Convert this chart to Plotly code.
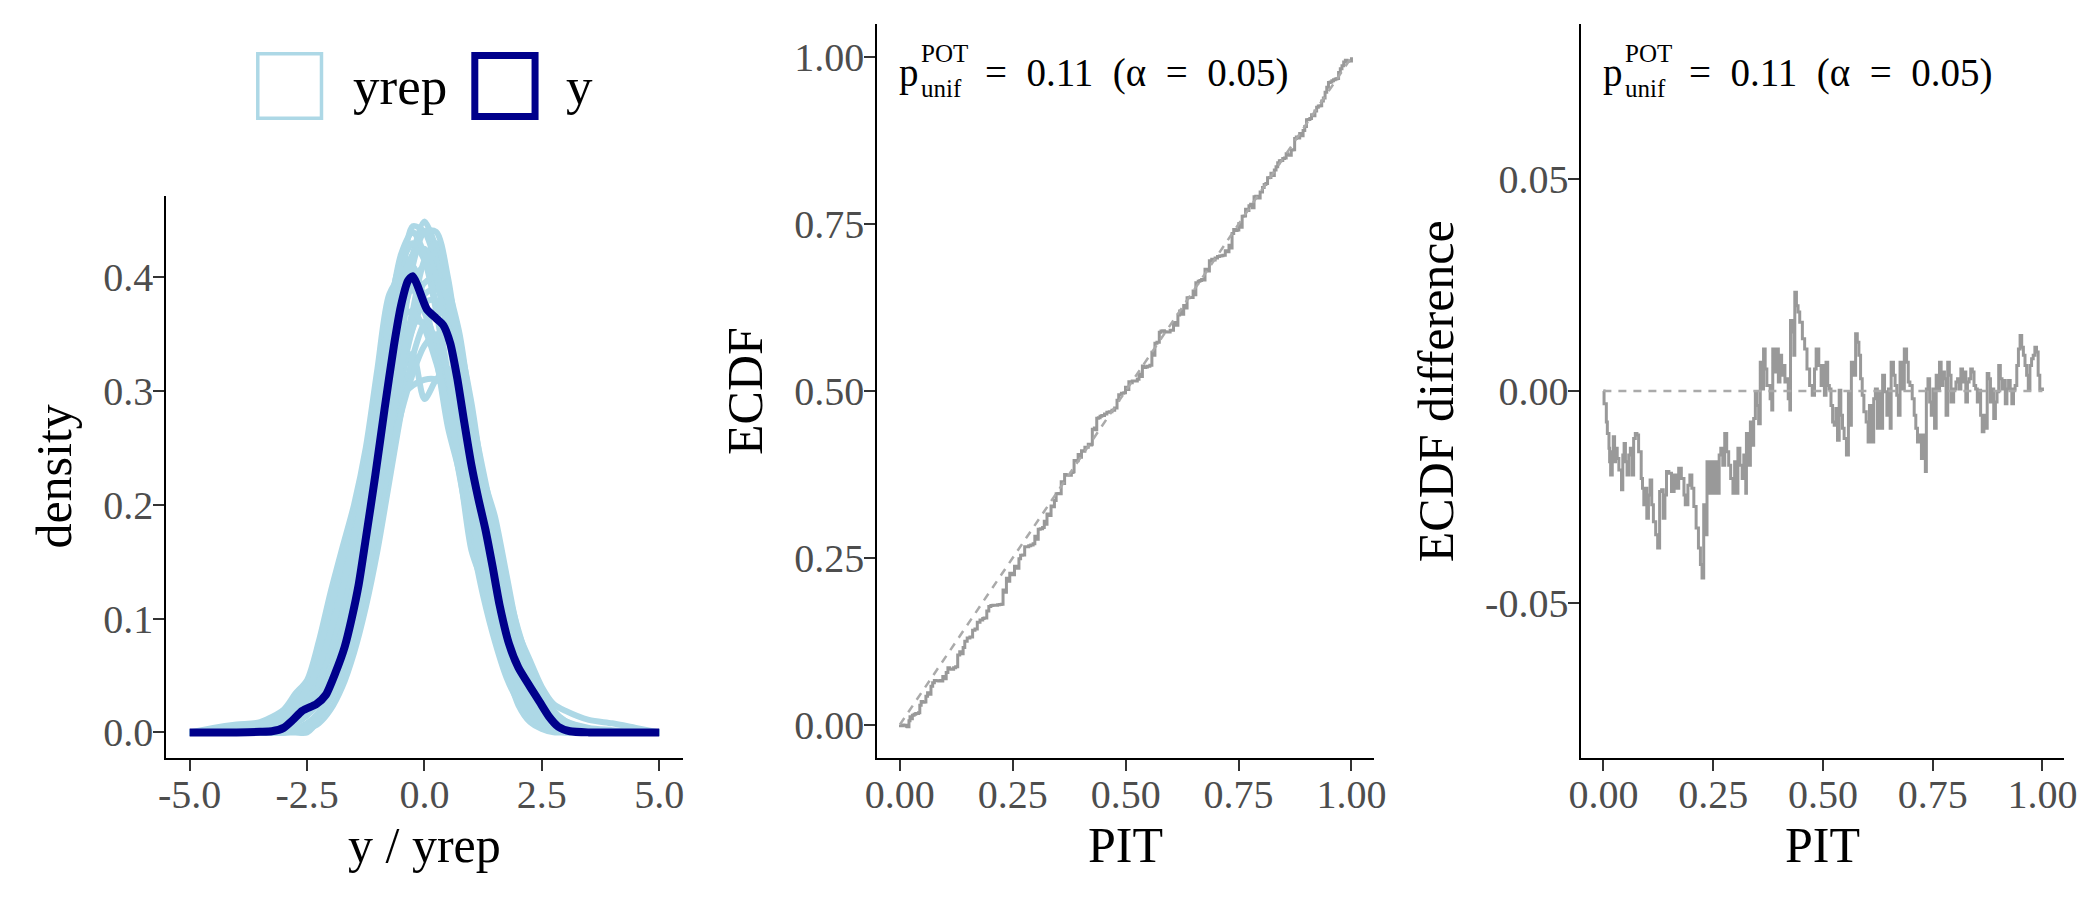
import plotly.graph_objects as go

# ---- data -------------------------------------------------------------
grid_x = [-5, -4.5, -4, -3.5, -3, -2.75, -2.5, -2.25, -2, -1.75, -1.5, -1.25, -1,
          -0.75, -0.5, -0.25, 0, 0.25, 0.5, 0.75, 1, 1.25, 1.5, 1.75, 2, 2.25,
          2.5, 2.75, 3, 3.5, 4, 4.5, 5]

yrep_01 = [0, 0.004, 0.007, 0.009, 0.02, 0.034, 0.046, 0.08, 0.123, 0.162, 0.2, 0.25, 0.32,
           0.385, 0.4, 0.39, 0.37, 0.34, 0.29, 0.235, 0.17, 0.13, 0.09, 0.055, 0.03, 0.015,
           0.007, 0.003, 0.001, 0, 0, 0, 0]
yrep_02 = [0, 0, 0, 0, 0.001, 0.003, 0.008, 0.018, 0.04, 0.07, 0.11, 0.165, 0.23,
           0.31, 0.39, 0.445, 0.44, 0.41, 0.36, 0.29, 0.22, 0.16, 0.11, 0.07, 0.04, 0.02,
           0.008, 0.003, 0.001, 0, 0, 0, 0]
yrep_03 = [0, 0, 0, 0, 0, 0.001, 0.004, 0.015, 0.045, 0.07, 0.105, 0.15, 0.205,
           0.28, 0.36, 0.42, 0.449, 0.425, 0.37, 0.3, 0.225, 0.16, 0.105, 0.065, 0.035, 0.017,
           0.007, 0.002, 0, 0, 0, 0, 0]
yrep_04 = [0, 0, 0, 0.001, 0.005, 0.01, 0.02, 0.035, 0.055, 0.085, 0.125, 0.175, 0.23,
           0.28, 0.315, 0.333, 0.293, 0.31, 0.32, 0.29, 0.24, 0.185, 0.135, 0.09, 0.055, 0.03,
           0.015, 0.007, 0.003, 0, 0, 0, 0]
yrep_05 = [0, 0, 0, 0, 0, 0.001, 0.003, 0.008, 0.02, 0.04, 0.07, 0.11, 0.16,
           0.22, 0.28, 0.33, 0.36, 0.37, 0.365, 0.34, 0.29, 0.225, 0.19, 0.138, 0.088, 0.063,
           0.04, 0.025, 0.019, 0.011, 0.008, 0.004, 0]
yrep_06 = [0, 0, 0, 0, 0, 0, 0, 0.012, 0.04, 0.066, 0.098, 0.14, 0.18,
           0.235, 0.3, 0.37, 0.415, 0.43, 0.392, 0.35, 0.28, 0.21, 0.15, 0.1, 0.06, 0.033,
           0.016, 0.007, 0.003, 0, 0, 0, 0]
yrep_07 = [0, 0, 0.002, 0.005, 0.012, 0.02, 0.035, 0.06, 0.095, 0.14, 0.19, 0.245, 0.31,
           0.37, 0.41, 0.41, 0.38, 0.33, 0.268, 0.227, 0.16, 0.13, 0.093, 0.055, 0.024, 0.009,
           0.003, 0, 0, 0, 0, 0, 0]
yrep_08 = [0, 0, 0, 0.001, 0.004, 0.009, 0.018, 0.032, 0.055, 0.088, 0.13, 0.185, 0.245,
           0.305, 0.36, 0.395, 0.41, 0.395, 0.355, 0.3, 0.24, 0.18, 0.128, 0.085, 0.052, 0.03,
           0.016, 0.008, 0.003, 0.001, 0, 0, 0]
yrep_09 = [0, 0, 0.002, 0.006, 0.015, 0.025, 0.04, 0.06, 0.085, 0.115, 0.15, 0.19, 0.23,
           0.27, 0.295, 0.305, 0.31, 0.31, 0.3, 0.275, 0.235, 0.19, 0.145, 0.105, 0.07, 0.045,
           0.027, 0.015, 0.008, 0.002, 0, 0, 0]
yrep_10 = [0, 0, 0, 0.001, 0.004, 0.01, 0.022, 0.042, 0.07, 0.105, 0.15, 0.21, 0.275,
           0.35, 0.41, 0.43, 0.415, 0.37, 0.31, 0.25, 0.19, 0.14, 0.095, 0.06, 0.035, 0.019,
           0.009, 0.004, 0.001, 0, 0, 0, 0]
yrep_11 = [0, 0, 0, 0, 0.001, 0.003, 0.007, 0.015, 0.03, 0.052, 0.085, 0.13, 0.185,
           0.25, 0.31, 0.355, 0.385, 0.39, 0.37, 0.325, 0.265, 0.205, 0.155, 0.11, 0.075, 0.048,
           0.029, 0.016, 0.009, 0.003, 0.001, 0, 0]
yrep_12 = [0, 0, 0, 0.002, 0.008, 0.015, 0.027, 0.045, 0.07, 0.1, 0.14, 0.185, 0.235,
           0.29, 0.335, 0.36, 0.36, 0.345, 0.315, 0.27, 0.22, 0.17, 0.125, 0.085, 0.055, 0.034,
           0.02, 0.011, 0.006, 0.002, 0, 0, 0]
yrep_13 = [0, 0, 0, 0, 0, 0.001, 0.002, 0.013, 0.042, 0.07, 0.1, 0.145, 0.2,
           0.265, 0.34, 0.41, 0.44, 0.44, 0.4, 0.33, 0.25, 0.175, 0.115, 0.07, 0.04, 0.02,
           0.009, 0.004, 0.001, 0, 0, 0, 0]
yrep_14 = [0, 0.001, 0.003, 0.007, 0.017, 0.028, 0.043, 0.07, 0.11, 0.15, 0.19, 0.235, 0.29,
           0.36, 0.4, 0.395, 0.37, 0.33, 0.28, 0.225, 0.17, 0.12, 0.08, 0.048, 0.027, 0.014,
           0.006, 0.002, 0.001, 0, 0, 0, 0]
yrep_15 = [0, 0, 0.001, 0.003, 0.008, 0.014, 0.025, 0.045, 0.075, 0.11, 0.155, 0.21, 0.27,
           0.335, 0.39, 0.42, 0.425, 0.4, 0.35, 0.285, 0.22, 0.16, 0.11, 0.072, 0.044, 0.025,
           0.013, 0.006, 0.002, 0, 0, 0, 0]
yrep_16 = [0, 0, 0, 0.001, 0.004, 0.008, 0.015, 0.028, 0.05, 0.08, 0.12, 0.165, 0.215,
           0.27, 0.32, 0.355, 0.378, 0.38, 0.36, 0.32, 0.27, 0.215, 0.165, 0.12, 0.082, 0.053,
           0.032, 0.018, 0.01, 0.004, 0.002, 0, 0]
yrep_17 = [0, 0, 0.002, 0.005, 0.012, 0.02, 0.032, 0.055, 0.09, 0.13, 0.175, 0.23, 0.295,
           0.365, 0.42, 0.44, 0.42, 0.375, 0.315, 0.25, 0.185, 0.13, 0.085, 0.052, 0.029, 0.015,
           0.007, 0.003, 0.001, 0, 0, 0, 0]
yrep_18 = [0, 0, 0, 0.001, 0.004, 0.008, 0.015, 0.027, 0.045, 0.07, 0.1, 0.14, 0.185,
           0.235, 0.28, 0.315, 0.34, 0.35, 0.345, 0.32, 0.28, 0.23, 0.18, 0.13, 0.09, 0.058,
           0.035, 0.019, 0.01, 0.003, 0.001, 0, 0]
yrep_19 = [0, 0, 0, 0, 0.001, 0.002, 0.005, 0.013, 0.03, 0.058, 0.095, 0.145, 0.2,
           0.26, 0.32, 0.37, 0.395, 0.4, 0.38, 0.335, 0.27, 0.2, 0.14, 0.09, 0.055, 0.03,
           0.015, 0.007, 0.003, 0, 0, 0, 0]
yrep_20 = [0, 0.001, 0.003, 0.007, 0.015, 0.025, 0.038, 0.058, 0.088, 0.125, 0.17, 0.22, 0.275,
           0.33, 0.365, 0.37, 0.355, 0.325, 0.285, 0.24, 0.19, 0.142, 0.1, 0.066, 0.04, 0.022,
           0.011, 0.005, 0.002, 0, 0, 0, 0]

# observed y density
y_x = [-5, -4, -3.5, -3.25, -3.0, -2.8, -2.6, -2.3, -2.1, -1.9, -1.7, -1.55, -1.4, -1.25,
       -1.05, -0.85, -0.65, -0.5, -0.35, -0.25, -0.15, 0.05, 0.25, 0.4, 0.55, 0.7, 0.85,
       1.0, 1.15, 1.3, 1.45, 1.6, 1.8, 2.0, 2.25, 2.45, 2.65, 2.85, 3.1, 3.5, 4, 5]
y_density = [0, 0, 0.0005, 0.001, 0.004, 0.011, 0.019, 0.025, 0.033, 0.052, 0.075, 0.10,
             0.13, 0.17, 0.225, 0.284, 0.34, 0.375, 0.397, 0.401, 0.393, 0.372, 0.364,
             0.358, 0.342, 0.311, 0.272, 0.235, 0.205, 0.178, 0.146, 0.112, 0.078, 0.057,
             0.040, 0.027, 0.014, 0.005, 0.001, 0, 0, 0]

# PIT values and ECDF difference (ECDF - PIT)
pit = [0.0, 0.0015, 0.0067, 0.009, 0.0127, 0.0142, 0.0165, 0.0202, 0.0225, 0.0255,
       0.0277, 0.0315, 0.0352, 0.0412, 0.0442, 0.0472, 0.0502, 0.0539, 0.0577, 0.0614,
       0.0652, 0.0689, 0.0727, 0.0764, 0.0802, 0.0861, 0.0891, 0.0921, 0.0951, 0.0989,
       0.1026, 0.1064, 0.1101, 0.1139, 0.1191, 0.1236, 0.1281, 0.1326, 0.1363, 0.1401,
       0.1438, 0.1491, 0.1551, 0.1611, 0.1663, 0.1715, 0.1775, 0.1835, 0.1865, 0.1925,
       0.1970, 0.2015, 0.2060, 0.2112, 0.2165, 0.2210, 0.2247, 0.2285, 0.2322, 0.2360,
       0.2390, 0.2434, 0.2487, 0.2539, 0.2584, 0.2637, 0.2674, 0.2719, 0.2764, 0.2809,
       0.2854, 0.2899, 0.2951, 0.2989, 0.3019, 0.3064, 0.3109, 0.3161, 0.3198, 0.3243,
       0.3258, 0.3311, 0.3348, 0.3393, 0.3423, 0.3461, 0.3498, 0.3536, 0.3573, 0.3610,
       0.3648, 0.3685, 0.3723, 0.3798, 0.3835, 0.3858, 0.3910, 0.3948, 0.3985, 0.4022,
       0.4060, 0.4097, 0.4135, 0.4172, 0.4210, 0.4247, 0.4262, 0.4307, 0.4337, 0.4360,
       0.4397, 0.4434, 0.4472, 0.4532, 0.4584, 0.4637, 0.4697, 0.4757, 0.4809, 0.4846,
       0.4906, 0.4959, 0.4996, 0.5034, 0.5071, 0.5109,
       0.5146, 0.5184, 0.5221, 0.5258, 0.5296, 0.5333, 0.5371, 0.5408, 0.5446, 0.5483,
       0.5536, 0.5581, 0.5618, 0.5648, 0.5693, 0.5745, 0.5783, 0.5820, 0.5858, 0.5895,
       0.5933, 0.5985, 0.6030, 0.6060, 0.6105, 0.6157, 0.6195, 0.6240, 0.6285, 0.6330,
       0.6360, 0.6404, 0.6457, 0.6494, 0.6532, 0.6554, 0.6607, 0.6644, 0.6682, 0.6719,
       0.6757, 0.6794, 0.6854, 0.6906, 0.6944, 0.6981, 0.7034, 0.7079, 0.7116, 0.7154,
       0.7206, 0.7244, 0.7288, 0.7333, 0.7356, 0.7393, 0.7431, 0.7468, 0.7506, 0.7543,
       0.7580, 0.7618, 0.7655, 0.7693, 0.7730, 0.7768, 0.7805, 0.7843, 0.7880, 0.7918,
       0.7978, 0.8030, 0.8067, 0.8105, 0.8142, 0.8180, 0.8217, 0.8255, 0.8292, 0.8330,
       0.8367, 0.8404, 0.8442, 0.8479, 0.8517, 0.8554, 0.8592, 0.8629, 0.8667, 0.8704,
       0.8742, 0.8779, 0.8816, 0.8854, 0.8891, 0.8929, 0.8966, 0.9004, 0.9041, 0.9079,
       0.9116, 0.9154, 0.9191, 0.9229, 0.9266, 0.9303, 0.9341, 0.9378, 0.9416, 0.9453,
       0.9491, 0.9528, 0.9566, 0.9603, 0.9640, 0.9678, 0.9715, 0.9753, 0.9790, 0.9828,
       0.9865, 0.9903, 0.9940, 1.0]
ecdf_diff = [0.0, -0.003, -0.0073, -0.010, -0.0135, -0.0167, -0.0198, -0.0143, -0.0108, -0.0167,
             -0.0135, -0.0159, -0.0186, -0.0233, -0.0151, -0.0124, -0.0167, -0.0198, -0.0151, -0.0135,
             -0.0198, -0.0112, -0.0100, -0.0104, -0.0143, -0.0206, -0.0229, -0.0268, -0.0229, -0.0300,
             -0.0245, -0.0210, -0.0268, -0.0308, -0.0339, -0.0370, -0.0237, -0.0233, -0.0300, -0.0245,
             -0.0190, -0.0194, -0.0237, -0.0198, -0.0229, -0.0182, -0.0206, -0.0245, -0.0268, -0.0222,
             -0.0198, -0.0229, -0.0272, -0.0323, -0.0370, -0.0409, -0.0441, -0.0268, -0.0339, -0.0167,
             -0.0241, -0.0167, -0.0241, -0.0167, -0.0241, -0.0151, -0.0135, -0.0175, -0.0100, -0.0143,
             -0.0175, -0.0206, -0.0241, -0.0167, -0.0241, -0.0135, -0.0175, -0.0206, -0.0151, -0.0241,
             -0.0100, -0.0175, -0.0073, -0.0128, -0.0065, -0.0002, -0.0034, -0.0077, 0.0068, 0.0005,
             0.0099, 0.0052, 0.0013, -0.0018, -0.0045, 0.0099, 0.0045, 0.0099, 0.0021, 0.0084,
             0.0037, 0.0060, 0.0021, 0.0029, -0.0018, -0.0045, 0.0166, 0.0139, 0.0084, 0.0233,
             0.0201, 0.0186, 0.0162, 0.0123, 0.0099, 0.0052, 0.0013, -0.0010, 0.0052, 0.0099,
             0.0060, 0.0013, 0.0060, -0.0010, 0.0068, 0.0013,
             0.0005, -0.0034, -0.0073, -0.0081, -0.0041, -0.0116, 0.0002, -0.0057, -0.0088, -0.0112,
             -0.0151, -0.0002, -0.0081, 0.0068, 0.0037, 0.0135, 0.0115, 0.0084, 0.0029, -0.0010,
             -0.0049, -0.0073, -0.0120, -0.0034, -0.0120, -0.0018, 0.0005, -0.0088, -0.0002, -0.0088,
             0.0037, -0.0002, -0.0057, 0.0005, -0.0088, 0.0068, 0.0037, 0.0013, -0.0010, -0.0057,
             0.0068, 0.0005, 0.0099, 0.0068, 0.0021, 0.0013, -0.0018, -0.0057, -0.0088, -0.0120,
             -0.0104, -0.0159, -0.0104, -0.0190, 0.0005, 0.0029, -0.0026, -0.0057, 0.0005, -0.0088,
             0.0037, 0.0005, 0.0068, 0.0013, 0.0045, 0.0029, -0.0057, 0.0068, 0.0037, -0.0026,
             0.0005, 0.0021, 0.0029, 0.0005, 0.0052, 0.0021, 0.0045, -0.0026, 0.0021, 0.0029,
             0.0052, 0.0045, 0.0013, 0.0005, -0.0026, 0.0002, -0.0057, -0.0096, -0.0057, -0.0088,
             0.0041, 0.0029, -0.0026, 0.0005, -0.0065, -0.0026, -0.0002, 0.0060, 0.0029, 0.0005,
             0.0025, -0.0030, 0.0005, 0.0025, 0.0005, -0.0030, 0.0005, 0.0013, 0.0060, 0.0099,
             0.0131, 0.0103, 0.0084, 0.0060, 0.0037, 0.0005, 0.0060, 0.0076, 0.0084, 0.0103,
             0.0092, 0.0037, 0.0005, 0.0]

p_unif = 0.11
alpha = 0.05

yrep_curves = [yrep_01, yrep_02, yrep_03, yrep_04, yrep_05, yrep_06, yrep_07,
               yrep_08, yrep_09, yrep_10, yrep_11, yrep_12, yrep_13, yrep_14,
               yrep_15, yrep_16, yrep_17, yrep_18, yrep_19, yrep_20]
ecdf = [p + d for p, d in zip(pit, ecdf_diff)]

# ---- figure -----------------------------------------------------------
W, H = 2100, 900
OFF = 8  # the page body margin pushes the figure 8px right/down
LIGHT = '#ADD8E6'
DARK = '#00008B'
GREY = '#999999'
SERIF = 'Liberation Serif'


def fx(px):
    return (px - OFF) / W


def fy(px):
    return 1 - (px - OFF) / H


fig = go.Figure()

for curve in yrep_curves:
    fig.add_trace(go.Scatter(x=grid_x, y=curve, mode='lines',
                             line=dict(color=LIGHT, width=6, shape='spline', smoothing=0.8),
                             xaxis='x', yaxis='y'))
fig.add_trace(go.Scatter(x=y_x, y=y_density, mode='lines',
                         line=dict(color=DARK, width=8, shape='spline', smoothing=0.6),
                         xaxis='x', yaxis='y'))

fig.add_trace(go.Scatter(x=pit, y=ecdf, mode='lines',
                         line=dict(color=GREY, width=3, shape='hv'),
                         xaxis='x2', yaxis='y2'))
fig.add_trace(go.Scatter(x=[0, 1], y=[0, 1], mode='lines',
                         line=dict(color='#AAAAAA', width=2.5, dash='8px,7px'),
                         xaxis='x2', yaxis='y2'))

fig.add_trace(go.Scatter(x=pit, y=ecdf_diff, mode='lines',
                         line=dict(color=GREY, width=3, shape='hv'),
                         xaxis='x3', yaxis='y3'))
fig.add_trace(go.Scatter(x=[0, 1], y=[0, 0], mode='lines',
                         line=dict(color='#AAAAAA', width=2.5, dash='8px,7px'),
                         xaxis='x3', yaxis='y3'))

axis_style = dict(showline=True, linecolor='black', linewidth=2, ticks='outside',
                  ticklen=11, tickwidth=2, tickcolor='#333333', showgrid=False,
                  zeroline=False, tickfont=dict(family=SERIF, size=40, color='#4D4D4D'))
x_style = dict(axis_style, ticklabelstandoff=-11)
y_style = dict(axis_style, ticklabelstandoff=-8)

fig.update_layout(
    width=W, height=H, margin=dict(l=0, r=0, t=0, b=0),
    paper_bgcolor='white', plot_bgcolor='white', showlegend=False,
    xaxis=dict(domain=[fx(155), fx(678)], range=[-5.5, 5.5], anchor='y',
               tickvals=[-5, -2.5, 0, 2.5, 5],
               ticktext=['-5.0', '-2.5', '0.0', '2.5', '5.0'], **x_style),
    yaxis=dict(domain=[fy(758), fy(196)], range=[-0.0225, 0.4715], anchor='x',
               tickvals=[0, 0.1, 0.2, 0.3, 0.4],
               ticktext=['0.0', '0.1', '0.2', '0.3', '0.4'], **y_style),
    xaxis2=dict(domain=[fx(875), fx(1378)], range=[-0.05, 1.05], anchor='y2',
                tickvals=[0, 0.25, 0.5, 0.75, 1],
                ticktext=['0.00', '0.25', '0.50', '0.75', '1.00'], **x_style),
    yaxis2=dict(domain=[fy(758), fy(24)], range=[-0.05, 1.05], anchor='x2',
                tickvals=[0, 0.25, 0.5, 0.75, 1],
                ticktext=['0.00', '0.25', '0.50', '0.75', '1.00'], **y_style),
    xaxis3=dict(domain=[fx(1588), fx(2077)], range=[-0.05, 1.05], anchor='y3',
                tickvals=[0, 0.25, 0.5, 0.75, 1],
                ticktext=['0.00', '0.25', '0.50', '0.75', '1.00'], **x_style),
    yaxis3=dict(domain=[fy(758), fy(24)], range=[-0.0865, 0.0865], anchor='x3',
                tickvals=[-0.05, 0, 0.05],
                ticktext=['-0.05', '0.00', '0.05'], **y_style),
)

annotations = []


def add_text(text, x_px, baseline_px, size, anchor='left', color='black'):
    annotations.append(dict(text=text, xref='paper', yref='paper',
                            x=fx(x_px), y=fy(baseline_px + 0.216 * size + 1),
                            xanchor=anchor, yanchor='bottom', showarrow=False,
                            font=dict(family=SERIF, size=size, color=color)))


def add_vtitle(text, x_px, y_px):
    annotations.append(dict(text=text, xref='paper', yref='paper',
                            x=fx(x_px), y=fy(y_px), xanchor='center', yanchor='middle',
                            textangle=-90, showarrow=False,
                            font=dict(family=SERIF, size=50, color='black')))


add_text('y / yrep', 416.5, 863, 50, anchor='center')
add_text('PIT', 1126.5, 863, 50, anchor='center')
add_text('PIT', 1832.5, 863, 50, anchor='center')
add_vtitle('density', 41, 477)
add_vtitle('ECDF', 741, 391)
add_vtitle('ECDF difference', 1441, 391)

stat_text = '=\u2002%.2f\u2002(\u03b1\u2002=\u2002%.2f)' % (p_unif, alpha)
for shift in [0, 713]:
    add_text('p', 895 + shift, 88, 39)
    add_text('POT', 917 + shift, 63, 25)
    add_text('unif', 917 + shift, 98, 25)
    add_text(stat_text, 982 + shift, 88, 39)

add_text('yrep', 342, 105, 53)
add_text('y', 558, 105, 53)

fig.update_layout(annotations=annotations, shapes=[
    dict(type='rect', xref='paper', yref='paper', x0=fx(247.75), x1=fx(312.25),
         y0=fy(118.25), y1=fy(53.75), line=dict(color=LIGHT, width=3.5)),
    dict(type='rect', xref='paper', yref='paper', x0=fx(467.5), x1=fx(528.5),
         y0=fy(116.5), y1=fy(55.5), line=dict(color=DARK, width=7)),
])

fig.write_html('out.html')
